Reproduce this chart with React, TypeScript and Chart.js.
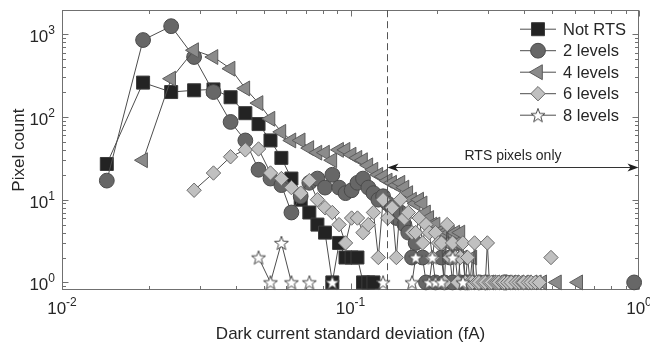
import { useEffect, useRef } from 'react';
import { Chart, registerables } from 'chart.js';
import { drawPoint } from 'chart.js/helpers';

Chart.register(...registerables);

// Histogram bin centres (fA), one per bin of the dark-current standard deviation
const BIN_CENTRES = [
  0.0143, 0.0191, 0.0239, 0.0287, 0.0335, 0.0384, 0.0432, 0.048, 0.0528, 0.0576,
  0.0624, 0.0672, 0.072, 0.0768, 0.0816, 0.0865, 0.0913, 0.0961, 0.1009, 0.1057,
  0.1105, 0.1153, 0.1201, 0.1249, 0.1297, 0.1346, 0.1394, 0.1442, 0.149, 0.1538,
  0.1586, 0.1634, 0.1682, 0.173, 0.1778, 0.1827, 0.1875, 0.1923, 0.1971, 0.2019,
  0.2067, 0.2115, 0.2163, 0.2211, 0.2259, 0.2308, 0.2356, 0.2404, 0.2452, 0.25,
  0.2548, 0.2596, 0.2644, 0.2692, 0.274, 0.2789, 0.2837, 0.2885, 0.2933, 0.2981,
  0.3029, 0.3077, 0.3125, 0.3173, 0.3221, 0.327, 0.3318, 0.3366, 0.3414, 0.3462,
  0.351, 0.3558, 0.3606, 0.3654, 0.3702, 0.3751, 0.3799, 0.3847, 0.3895, 0.3943,
  0.3991, 0.4039, 0.4087, 0.4135, 0.4183, 0.4232, 0.428, 0.4328, 0.4376, 0.4424,
  0.4472, 0.452, 0.4568, 0.4616, 0.4664, 0.4713, 0.4761, 0.4809, 0.4857, 0.4905,
  0.4953,
];

// Pixel counts per bin (0 = empty bin, not shown on the log axis)
const NOT_RTS = [27, 260, 200, 210, 215, 173, 111, 82, 52, 32, 18, 10, 7, 5, 4, 1, 3, 2, 2, 2, 1, 1, 1];

const TWO_LEVELS = [
  17, 850, 1250, 530, 200, 87, 52, 23, 18, 15,
  7, 11, 16, 18, 14, 20, 14, 12, 13, 16,
  18, 14, 12, 10, 11, 9, 8, 6, 7, 5,
  4, 2, 3, 0, 2, 1, 0, 0, 1, 0,
  2, 1, 0, 2, 1, 3, 3, 1, 0, 1,
  1, 0, 0, 0, 0, 1, 0, 0, 1, 0,
  0, 0, 0, 0, 0, 0, 0, 0, 1, 1,
];

const FOUR_LEVELS = [
  0, 30, 290, 640, 530, 383, 221, 147, 95, 66,
  52, 52, 42, 37, 37, 30, 40, 40, 35, 32,
  30, 26, 23, 20, 19, 17, 16, 15, 16, 14,
  12, 10, 9, 10, 9, 7, 6, 5, 5, 4,
  3, 4, 3, 4, 3, 4, 3, 4, 2, 1,
  1, 1, 2, 1, 1, 0, 1, 1, 1, 0,
  1, 1, 0, 1, 0, 1, 1, 1, 0, 1,
  1, 0, 1, 0, 1, 0, 0, 1, 0, 0,
  1, 0, 1, 0, 0, 0, 1, 0, 0, 1,
  0, 0, 0, 1,
];

const SIX_LEVELS = [
  0, 0, 0, 13, 21, 33, 40, 41, 21, 18,
  14, 12, 17, 10, 8, 7, 5, 3, 6, 6,
  4, 5, 7, 2, 10, 6, 8, 2, 10, 6,
  7, 4, 4, 6, 3, 5, 4, 2, 4, 3,
  3, 1, 5, 2, 3, 2, 1, 2, 3, 1,
  2, 1, 1, 3, 1, 1, 0, 1, 1, 3,
  1, 1, 0, 1, 1, 1, 0, 1, 1, 0,
  1, 0, 1, 0, 0, 1, 0, 1, 0, 1,
  1, 0, 0, 1, 0, 1, 0, 0, 1, 0,
  0, 1, 0, 0, 0, 0, 0, 0, 0, 0,
  2,
];

const EIGHT_LEVELS = [
  0, 0, 0, 0, 0, 0, 0, 2, 1, 3,
  1, 0, 1, 0, 0, 1, 0, 0, 0, 0,
  0, 0, 0, 0, 1, 0, 0, 0, 0, 0,
  0, 1, 2, 0, 0, 0, 1, 2, 1, 0,
  1, 0, 0, 0, 2, 0, 0, 0, 1,
];

// Isolated bins further out: [bin centre, count]
const TWO_LEVELS_FAR: [number, number][] = [[0.9619, 1]];
const FOUR_LEVELS_FAR: [number, number][] = [[0.5194, 1], [0.6155, 1]];

const SERIES_NAMES = ['Not RTS', '2 levels', '4 levels', '6 levels', '8 levels'];

const X_DECADES = [-2, -1, 0];
const Y_DECADES = [0, 1, 2, 3];
const X_MIN = 0.01;
const X_MAX = 1;
const Y_MIN = 0.81;
const Y_MAX = 1950;

const RTS_THRESHOLD = 0.134; // fA, above this only RTS pixels remain
const ARROW_COUNT = 25;

const FONT = '"Liberation Sans", Arial, Helvetica, sans-serif';
const TEXT_COLOR = '#262626';
const AXIS_COLOR = '#707070';
const LINE_COLOR = '#4d4d4d';

function makeStar(): HTMLCanvasElement {
  const size = 18;
  const c = document.createElement('canvas');
  c.width = size;
  c.height = size;
  const g = c.getContext('2d')!;
  const cx = size / 2;
  const cy = size / 2 + 0.6;
  const R = 7.4;
  const r = 3.0;
  g.beginPath();
  for (let i = 0; i < 10; i++) {
    const a = -Math.PI / 2 + (i * Math.PI) / 5;
    const rad = i % 2 === 0 ? R : r;
    const px = cx + rad * Math.cos(a);
    const py = cy + rad * Math.sin(a);
    if (i === 0) g.moveTo(px, py);
    else g.lineTo(px, py);
  }
  g.closePath();
  g.fillStyle = '#ffffff';
  g.fill();
  g.strokeStyle = '#4a4a4a';
  g.lineWidth = 1;
  g.stroke();
  return c;
}

type Marker = { style: any; radius: number; rotation: number; fill: string; edge: string };

function toPoints(counts: number[], far: [number, number][] = []) {
  const pts: { x: number; y: number | null }[] = counts.map((n, i) => ({
    x: BIN_CENTRES[i],
    y: n > 0 ? n : null,
  }));
  for (const [x, n] of far) {
    pts.push({ x, y: null }, { x, y: n });
  }
  return pts;
}

function drawPower(
  ctx: CanvasRenderingContext2D,
  exp: number,
  x: number,
  baseline: number,
  align: 'center' | 'right',
) {
  const sup = String(exp);
  ctx.font = `17px ${FONT}`;
  const wb = ctx.measureText('10').width;
  ctx.font = `12px ${FONT}`;
  const ws = ctx.measureText(sup).width;
  const total = wb + ws;
  const left = align === 'center' ? x - total / 2 : x - total;
  ctx.textAlign = 'left';
  ctx.textBaseline = 'alphabetic';
  ctx.font = `17px ${FONT}`;
  ctx.fillText('10', left, baseline);
  ctx.font = `12px ${FONT}`;
  ctx.fillText(sup, left + wb, baseline - 8);
}

export default function App() {
  const canvasRef = useRef<HTMLCanvasElement | null>(null);

  useEffect(() => {
    const canvas = canvasRef.current;
    if (!canvas) return;

    const markers: Marker[] = [
      { style: 'rect', radius: 9.2, rotation: 0, fill: '#232323', edge: '#3c3c3c' },
      { style: 'circle', radius: 7.4, rotation: 0, fill: '#676767', edge: '#4a4a4a' },
      { style: 'triangle', radius: 8.6, rotation: -90, fill: '#8b8b8b', edge: '#5c5c5c' },
      { style: 'rectRot', radius: 7.2, rotation: 0, fill: '#c0c0c0', edge: '#6a6a6a' },
      { style: makeStar(), radius: 7, rotation: 0, fill: '#ffffff', edge: '#4a4a4a' },
    ];

    const series = [
      toPoints(NOT_RTS),
      toPoints(TWO_LEVELS, TWO_LEVELS_FAR),
      toPoints(FOUR_LEVELS, FOUR_LEVELS_FAR),
      toPoints(SIX_LEVELS),
      toPoints(EIGHT_LEVELS),
    ];

    const datasets = series.map((data, i) => ({
      label: SERIES_NAMES[i],
      data,
      order: SERIES_NAMES.length - i,
      borderColor: LINE_COLOR,
      borderWidth: 1,
      tension: 0,
      spanGaps: false,
      clip: false as const,
      pointStyle: markers[i].style,
      pointRadius: markers[i].radius,
      pointRotation: markers[i].rotation,
      pointBackgroundColor: markers[i].fill,
      pointBorderColor: markers[i].edge,
      pointBorderWidth: 1,
      pointHoverRadius: markers[i].radius,
    }));

    // Box with inward ticks on all four sides, drawn under the data
    const frame = {
      id: 'frame',
      beforeDatasetsDraw(chart: any) {
        const { ctx, chartArea: a } = chart;
        const xs = chart.scales.x;
        const ys = chart.scales.y;
        const L = Math.round(a.left) + 0.5;
        const R = Math.round(a.right) - 0.5;
        const T = Math.round(a.top) + 0.5;
        const B = Math.round(a.bottom) - 0.5;
        ctx.save();
        ctx.strokeStyle = AXIS_COLOR;
        ctx.lineWidth = 1;
        ctx.strokeRect(L, T, R - L, B - T);
        ctx.beginPath();
        for (let d = -2; d <= 0; d++) {
          for (let m = 1; m <= 9; m++) {
            const v = m * Math.pow(10, d);
            if (v < X_MIN - 1e-9 || v > X_MAX + 1e-9) continue;
            const len = m === 1 ? 6 : 3.5;
            const px = Math.round(xs.getPixelForValue(v)) + 0.5;
            ctx.moveTo(px, B);
            ctx.lineTo(px, B - len);
            ctx.moveTo(px, T);
            ctx.lineTo(px, T + len);
          }
        }
        for (let d = -1; d <= 3; d++) {
          for (let m = 1; m <= 9; m++) {
            const v = m * Math.pow(10, d);
            if (v < Y_MIN || v > Y_MAX) continue;
            const len = m === 1 ? 6 : 3.5;
            const py = Math.round(ys.getPixelForValue(v)) + 0.5;
            ctx.moveTo(L, py);
            ctx.lineTo(L + len, py);
            ctx.moveTo(R, py);
            ctx.lineTo(R - len, py);
          }
        }
        ctx.stroke();
        ctx.restore();
      },
    };

    // Labels, threshold marker, annotation and legend, drawn over the data
    const overlay = {
      id: 'overlay',
      afterDraw(chart: any) {
        const { ctx, chartArea: a } = chart;
        const xs = chart.scales.x;
        const ys = chart.scales.y;
        ctx.save();

        // threshold line
        const tx = Math.round(xs.getPixelForValue(RTS_THRESHOLD)) + 0.5;
        ctx.strokeStyle = '#555555';
        ctx.lineWidth = 1;
        ctx.setLineDash([7, 4]);
        ctx.beginPath();
        ctx.moveTo(tx, a.top);
        ctx.lineTo(tx, a.bottom);
        ctx.stroke();
        ctx.setLineDash([]);

        // double arrow spanning the RTS-only range
        const ay = Math.round(ys.getPixelForValue(ARROW_COUNT)) + 0.5;
        const ax1 = tx;
        const ax2 = xs.getPixelForValue(X_MAX) - 0.5;
        ctx.strokeStyle = '#333333';
        ctx.beginPath();
        ctx.moveTo(ax1 + 6, ay);
        ctx.lineTo(ax2 - 6, ay);
        ctx.stroke();
        ctx.fillStyle = '#1e1e1e';
        const head = (tip: number, dir: number) => {
          ctx.beginPath();
          ctx.moveTo(tip, ay);
          ctx.lineTo(tip + dir * 11, ay - 4);
          ctx.lineTo(tip + dir * 8, ay);
          ctx.lineTo(tip + dir * 11, ay + 4);
          ctx.closePath();
          ctx.fill();
        };
        head(ax1, 1);
        head(ax2, -1);
        ctx.fillStyle = TEXT_COLOR;
        ctx.font = `14px ${FONT}`;
        ctx.textAlign = 'center';
        ctx.textBaseline = 'middle';
        ctx.fillText('RTS pixels only', (ax1 + ax2) / 2, ay - 11);

        // tick labels
        ctx.fillStyle = TEXT_COLOR;
        for (const d of X_DECADES) {
          drawPower(ctx, d, xs.getPixelForValue(Math.pow(10, d)), a.bottom + 24, 'center');
        }
        for (const d of Y_DECADES) {
          drawPower(ctx, d, a.left - 7, ys.getPixelForValue(Math.pow(10, d)) + 8, 'right');
        }

        // axis titles
        ctx.font = `17px ${FONT}`;
        ctx.textAlign = 'center';
        ctx.textBaseline = 'middle';
        ctx.fillText('Dark current standard deviation (fA)', (a.left + a.right) / 2, a.bottom + 44);
        ctx.save();
        ctx.translate(19, (a.top + a.bottom) / 2);
        ctx.rotate(-Math.PI / 2);
        ctx.fillText('Pixel count', 0, 0);
        ctx.restore();

        // legend
        const lx = a.right - 119;
        SERIES_NAMES.forEach((name, i) => {
          const y = a.top + 19 + i * 21.5;
          const m = markers[i];
          ctx.strokeStyle = LINE_COLOR;
          ctx.lineWidth = 1;
          ctx.beginPath();
          ctx.moveTo(lx, y);
          ctx.lineTo(lx + 36, y);
          ctx.stroke();
          ctx.fillStyle = m.fill;
          ctx.strokeStyle = m.edge;
          drawPoint(ctx, { pointStyle: m.style, rotation: m.rotation, radius: m.radius, borderWidth: 1 } as any, lx + 18, y);
          ctx.fillStyle = TEXT_COLOR;
          ctx.font = `16.5px ${FONT}`;
          ctx.textAlign = 'left';
          ctx.textBaseline = 'middle';
          ctx.fillText(name, lx + 43, y + 1);
        });

        ctx.restore();
      },
    };

    const chart = new Chart(canvas, {
      type: 'line',
      data: { datasets: datasets as any },
      options: {
        responsive: false,
        animation: false,
        events: [],
        layout: { padding: { left: 62, top: 5, right: 11, bottom: 61 } },
        scales: {
          x: { type: 'logarithmic', min: X_MIN, max: X_MAX, bounds: 'data', display: false },
          y: { type: 'logarithmic', min: Y_MIN, max: Y_MAX, bounds: 'data', display: false },
        },
        plugins: {
          legend: { display: false },
          tooltip: { enabled: false },
        },
      },
      plugins: [frame, overlay],
    });

    return () => chart.destroy();
  }, []);

  return (
    <div style={{ position: 'fixed', left: 0, top: 0, width: 650, height: 351, background: '#ffffff' }}>
      <canvas ref={canvasRef} width={650} height={351} style={{ display: 'block' }} />
    </div>
  );
}
